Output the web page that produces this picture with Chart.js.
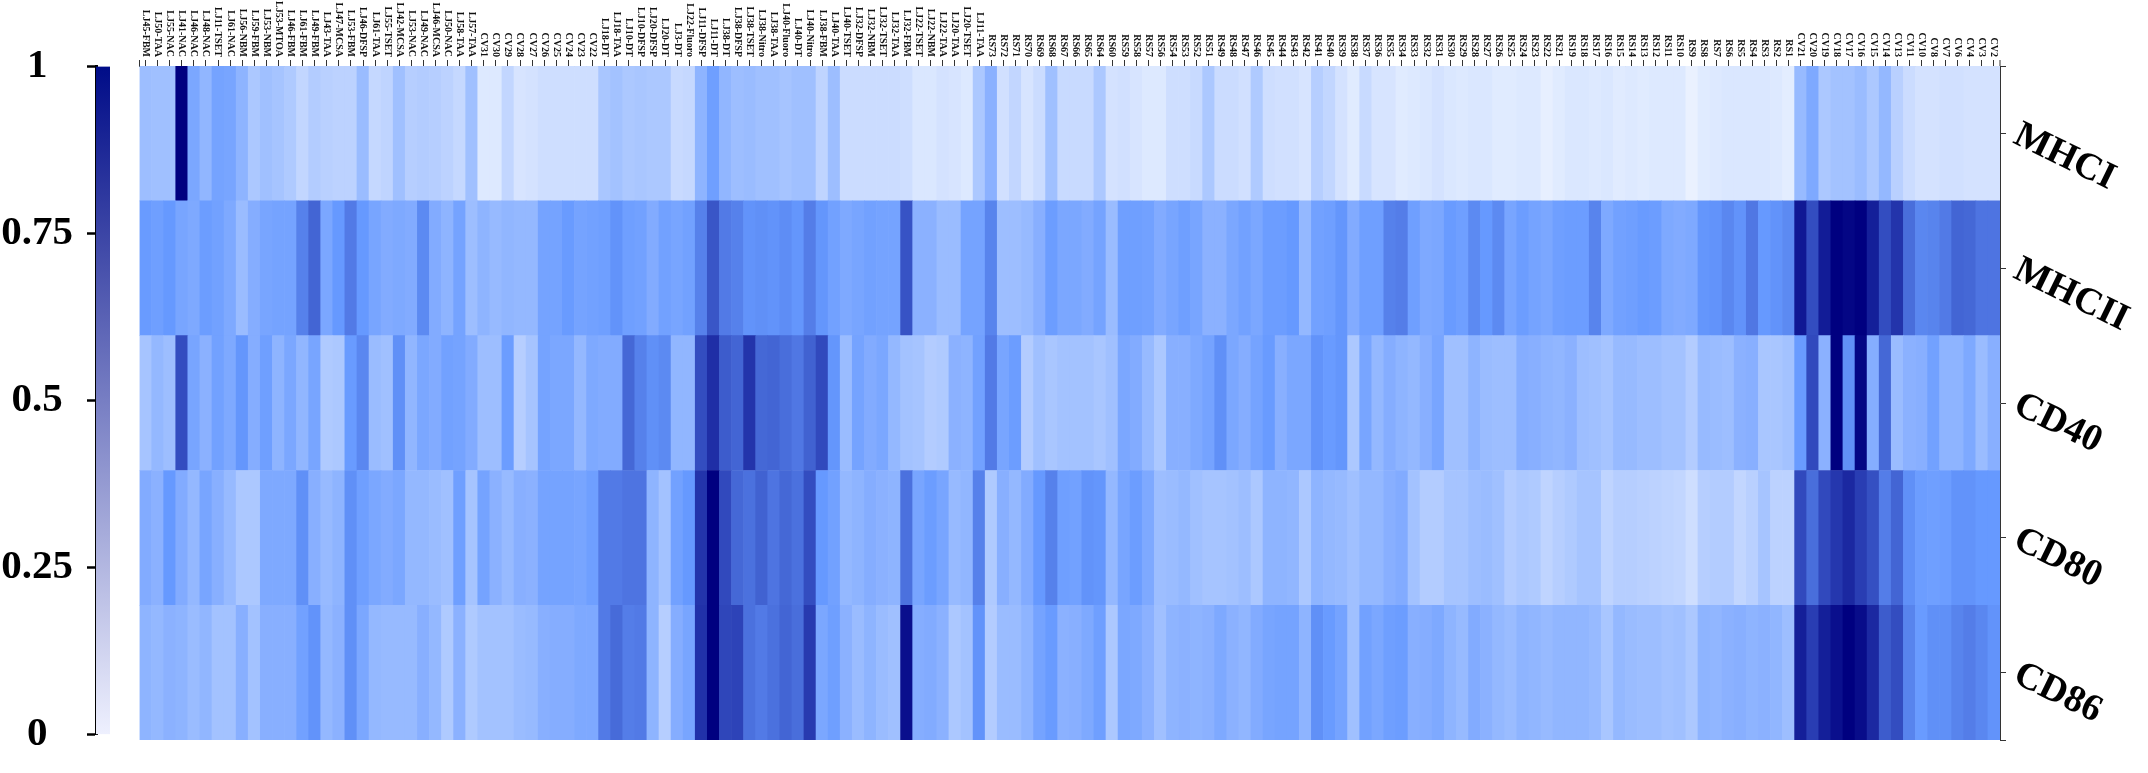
<!DOCTYPE html>
<html>
<head>
<meta charset="utf-8">
<title>Heatmap</title>
<script src="https://cdn.jsdelivr.net/npm/chart.js@4"></script>
<style>
body{margin:0;background:#fff;}
canvas{position:absolute;left:0;top:0;}
</style>
</head>
<body>
<canvas id="grafico" width="2148" height="773"></canvas>
<canvas id="barra" width="111" height="773"></canvas>
<script>
const muestras = [
"LJ45-FBM","LJ50-TAA","LJ55-NAC","LJ41-NAC","LJ46-NAC","LJ48-NAC","LJ11-TSET","LJ61-NAC","LJ56-NBM","LJ59-FBM",
"LJ53-NBM","LJ53-MTOA","LJ46-FBM","LJ61-FBM","LJ49-FBM","LJ43-TAA","LJ47-MCSA","LJ53-FBM","LJ46-DFSP","LJ61-TAA",
"LJ55-TSET","LJ42-MCSA","LJ53-NAC","LJ49-NAC","LJ46-MCSA","LJ50-NAC","LJ58-TAA","LJ57-TAA","CV31","CV30",
"CV29","CV28","CV27","CV26","CV25","CV24","CV23","CV22","LJ18-DT","LJ18-TAA",
"LJ10-DT","LJ10-DFSP","LJ20-DFSP","LJ20-DT","LJ3-DT","LJ22-Fluoro","LJ11-DFSP","LJ11-DT","LJ38-DT","LJ38-DFSP",
"LJ38-TSET","LJ38-Nitro","LJ38-TAA","LJ40-Fluoro","LJ40-DT","LJ40-Nitro","LJ38-FBM","LJ40-TAA","LJ40-TSET","LJ32-DFSP",
"LJ32-NBM","LJ32-TSET","LJ32-TAA","LJ32-FBM","LJ22-TSET","LJ22-NBM","LJ22-TAA","LJ20-TAA","LJ20-TSET","LJ11-TAA",
"RS73","RS72","RS71","RS70","RS69","RS68","RS67","RS66","RS65","RS64",
"RS60","RS59","RS58","RS57","RS56","RS54","RS53","RS52","RS51","RS49",
"RS48","RS47","RS46","RS45","RS44","RS43","RS42","RS41","RS40","RS39",
"RS38","RS37","RS36","RS35","RS34","RS33","RS32","RS31","RS30","RS29",
"RS28","RS27","RS26","RS25","RS24","RS23","RS22","RS21","RS19","RS18",
"RS17","RS16","RS15","RS14","RS13","RS12","RS11","RS10","RS9","RS8",
"RS7","RS6","RS5","RS4","RS3","RS2","RS1","CV21","CV20","CV19",
"CV18","CV17","CV16","CV15","CV14","CV13","CV11","CV10","CV8","CV7",
"CV6","CV4","CV3","CV2"
];

const filas = ["CD86","CD80","CD40","MHCII","MHCI"];

const mhci = [
.32,.31,.31,1,.43,.36,.45,.44,.37,.27,
.31,.29,.26,.2,.25,.23,.22,.22,.33,.19,
.21,.31,.24,.25,.24,.22,.19,.31,.11,.11,
.2,.13,.14,.16,.16,.16,.16,.16,.28,.3,
.27,.28,.27,.27,.18,.19,.37,.47,.36,.32,
.33,.31,.31,.29,.31,.31,.21,.32,.17,.17,
.17,.17,.17,.16,.12,.12,.14,.13,.11,.27,
.38,.15,.2,.13,.17,.31,.18,.18,.18,.27,
.14,.15,.13,.11,.11,.16,.16,.18,.27,.17,
.17,.15,.26,.16,.15,.15,.13,.24,.2,.14,
.1,.18,.13,.13,.1,.11,.12,.14,.12,.11,
.12,.12,.1,.1,.11,.11,.08,.1,.12,.12,
.11,.12,.1,.11,.1,.11,.11,.11,.07,.1,
.11,.12,.12,.12,.12,.11,.09,.34,.42,.27,
.3,.3,.33,.27,.35,.23,.17,.14,.14,.15,
.15,.14,.14,.14
];

const mhcii = [
.49,.47,.5,.44,.42,.48,.46,.42,.33,.4,
.44,.45,.45,.58,.67,.43,.5,.6,.5,.44,
.41,.42,.41,.55,.41,.37,.45,.32,.37,.34,
.36,.35,.35,.45,.45,.49,.45,.46,.47,.52,
.47,.46,.41,.46,.44,.46,.58,.72,.6,.58,
.52,.53,.52,.54,.51,.59,.51,.46,.42,.44,
.46,.45,.45,.73,.38,.38,.33,.33,.45,.45,
.57,.32,.32,.34,.39,.48,.43,.43,.41,.45,
.33,.47,.47,.46,.41,.44,.47,.44,.38,.38,
.43,.46,.43,.48,.48,.5,.35,.46,.47,.51,
.41,.47,.47,.58,.59,.47,.42,.43,.49,.47,
.55,.5,.55,.44,.48,.45,.43,.47,.48,.48,
.57,.42,.46,.47,.49,.48,.42,.41,.42,.51,
.52,.56,.52,.61,.5,.52,.55,.92,.75,.91,
1,.98,1,.9,.75,.83,.64,.56,.57,.6,
.67,.66,.62,.62
];

const cd40 = [
.29,.35,.32,.75,.44,.38,.46,.42,.51,.4,
.47,.37,.43,.36,.44,.26,.27,.49,.56,.33,
.31,.53,.36,.43,.41,.46,.45,.41,.32,.32,
.48,.24,.29,.45,.43,.43,.35,.42,.41,.41,
.66,.58,.53,.55,.36,.36,.75,.85,.7,.67,
.83,.66,.67,.64,.61,.68,.76,.51,.33,.45,
.41,.43,.35,.3,.29,.25,.26,.38,.37,.46,
.6,.44,.48,.25,.31,.28,.3,.3,.3,.28,
.31,.43,.41,.34,.27,.39,.39,.42,.45,.53,
.43,.4,.45,.49,.39,.43,.43,.52,.49,.51,
.27,.44,.35,.4,.37,.35,.39,.44,.31,.31,
.37,.33,.32,.32,.4,.39,.37,.36,.38,.32,
.31,.29,.34,.34,.32,.32,.3,.3,.25,.34,
.33,.32,.38,.39,.28,.28,.3,.49,.76,.38,
1,.53,.98,.4,.66,.33,.38,.39,.46,.37,
.37,.42,.33,.39
];

const cd80 = [
.41,.38,.5,.41,.35,.44,.39,.34,.27,.27,
.42,.42,.42,.53,.39,.34,.37,.53,.47,.43,
.41,.43,.35,.35,.33,.31,.47,.29,.45,.38,
.34,.39,.38,.45,.45,.45,.44,.47,.6,.6,
.62,.62,.37,.3,.46,.5,.83,1,.76,.66,
.63,.68,.62,.66,.63,.75,.5,.46,.35,.37,
.4,.38,.37,.63,.44,.48,.44,.34,.36,.58,
.26,.39,.35,.41,.5,.58,.47,.46,.52,.51,
.35,.44,.48,.42,.32,.33,.35,.31,.29,.29,
.3,.32,.27,.37,.37,.36,.27,.37,.35,.34,
.31,.35,.35,.39,.41,.3,.25,.25,.29,.29,
.32,.33,.31,.25,.27,.26,.21,.24,.26,.29,
.29,.21,.24,.24,.23,.22,.21,.2,.16,.24,
.25,.25,.2,.23,.29,.22,.22,.76,.64,.76,
.82,.87,.8,.74,.59,.67,.53,.48,.47,.48,
.52,.52,.5,.5
];

const cd86 = [
.37,.35,.38,.37,.33,.36,.3,.3,.39,.3,
.39,.39,.39,.46,.52,.35,.38,.53,.43,.35,
.34,.34,.34,.39,.35,.26,.38,.26,.3,.3,
.3,.33,.34,.39,.4,.4,.42,.42,.6,.65,
.59,.6,.37,.24,.4,.44,.84,1,.77,.78,
.63,.6,.63,.67,.64,.81,.43,.47,.38,.33,
.37,.33,.31,.95,.4,.41,.38,.27,.3,.52,
.25,.33,.33,.37,.45,.49,.38,.39,.42,.47,
.27,.43,.42,.38,.31,.37,.38,.37,.38,.42,
.38,.36,.41,.44,.45,.45,.37,.53,.49,.45,
.31,.46,.43,.47,.48,.39,.4,.42,.37,.34,
.41,.38,.35,.33,.37,.36,.34,.36,.36,.36,
.34,.28,.35,.33,.32,.32,.3,.31,.27,.37,
.36,.38,.39,.37,.38,.36,.32,.9,.8,.9,
.95,1,.96,.87,.7,.75,.57,.49,.53,.53,
.57,.59,.56,.52
];

const ticksFilas = [0,0.5,1.5,2.5,3.5,4.5,5];
const ticksBarra = [0,0.25,0.5,0.75,1];
const coloresBarra = ["#eef0fe","#000c88"];

const valores = [cd86,cd80,cd40,mhcii,mhci];

// blanco -> azul medio -> azul marino
function colorValor(v){
    const a = v<=.5 ? [255,255,255] : [102,153,255];
    const b = v<=.5 ? [102,153,255] : [0,0,128];
    const t = v<=.5 ? v/.5 : (v-.5)/.5;
    const c = a.map((x,i)=>Math.round(x+(b[i]-x)*t));
    return "rgb("+c.join(",")+")";
}

// las etiquetas de arriba van giradas hacia abajo, Chart.js no lo alinea solo
const etiquetasArriba = {
    id:"etiquetasArriba",
    afterDraw(chart){
        const ctx = chart.ctx;
        const x = chart.scales.x;
        const area = chart.chartArea;
        ctx.save();
        ctx.fillStyle = "#111";
        ctx.font = "bold 10px 'Liberation Serif'";
        ctx.textAlign = "right";
        ctx.textBaseline = "middle";
        muestras.forEach((m,i)=>{
            ctx.save();
            ctx.translate(x.getPixelForTick(i),57);
            ctx.rotate(Math.PI/2);
            ctx.fillText(m,0,0);
            ctx.restore();
        });
        ctx.strokeStyle = "#333";
        ctx.lineWidth = 1;
        [area.left,area.right].forEach(p=>{
            ctx.beginPath();
            ctx.moveTo(p,area.top-6);
            ctx.lineTo(p,area.top);
            ctx.stroke();
        });
        ctx.restore();
    }
};

new Chart(document.getElementById("grafico"),{
    type:"bar",
    plugins:[etiquetasArriba],
    data:{
        labels:muestras,
        datasets:filas.map((f,i)=>({
            label:f,
            data:valores[i].map(()=>1),
            backgroundColor:valores[i].map(colorValor),
            borderWidth:0,
            barPercentage:1,
            categoryPercentage:1
        }))
    },
    options:{
        responsive:false,
        animation:false,
        devicePixelRatio:1,
        layout:{padding:{left:139.5,right:0,top:0,bottom:17}},
        plugins:{legend:{display:false},tooltip:{enabled:false}},
        scales:{
            x:{
                position:"top",
                stacked:true,
                ticks:{display:false,autoSkip:false},
                grid:{offset:false,drawOnChartArea:false,tickLength:6,tickColor:"#333"},
                border:{color:"#333"},
                afterFit(s){s.height=66;}
            },
            y:{
                position:"right",
                stacked:true,
                min:0,
                max:5,
                afterBuildTicks(s){s.ticks=ticksFilas.map(v=>({value:v}));},
                ticks:{
                    autoSkip:false,
                    color:"#000",
                    minRotation:-26,
                    padding:10,
                    font:{family:"'Liberation Serif'",size:38,weight:"bold"},
                    callback(v){return Number.isInteger(v)?"":filas[Math.floor(v)];}
                },
                grid:{drawOnChartArea:false,tickLength:6,tickColor:"#333"},
                border:{color:"#333"},
                afterFit(s){s.width=148;}
            }
        }
    }
});

new Chart(document.getElementById("barra"),{
    type:"bar",
    data:{
        labels:[""],
        datasets:[{
            data:[[0,1]],
            borderWidth:0,
            barPercentage:1,
            categoryPercentage:1,
            backgroundColor(c){
                const area = c.chart.chartArea;
                if(!area) return coloresBarra[0];
                const g = c.chart.ctx.createLinearGradient(0,area.bottom,0,area.top);
                coloresBarra.forEach((col,i)=>g.addColorStop(i/(coloresBarra.length-1),col));
                return g;
            }
        }]
    },
    options:{
        responsive:false,
        animation:false,
        devicePixelRatio:1,
        layout:{padding:{left:0,right:1,top:66.5,bottom:17}},
        plugins:{legend:{display:false},tooltip:{enabled:false}},
        scales:{
            x:{display:false},
            y:{
                min:0,
                max:1,
                afterBuildTicks(s){s.ticks=ticksBarra.map(v=>({value:v}));},
                ticks:{
                    color:"#000",
                    crossAlign:"center",
                    padding:14,
                    font:{family:"'Liberation Serif'",size:41,weight:"bold"},
                    callback(v){return String(v);}
                },
                grid:{drawOnChartArea:false,tickLength:9,tickWidth:2.5,tickColor:"#000"},
                border:{color:"#000",width:3},
                afterFit(s){s.width=96;}
            }
        }
    }
});
</script>
</body>
</html>
